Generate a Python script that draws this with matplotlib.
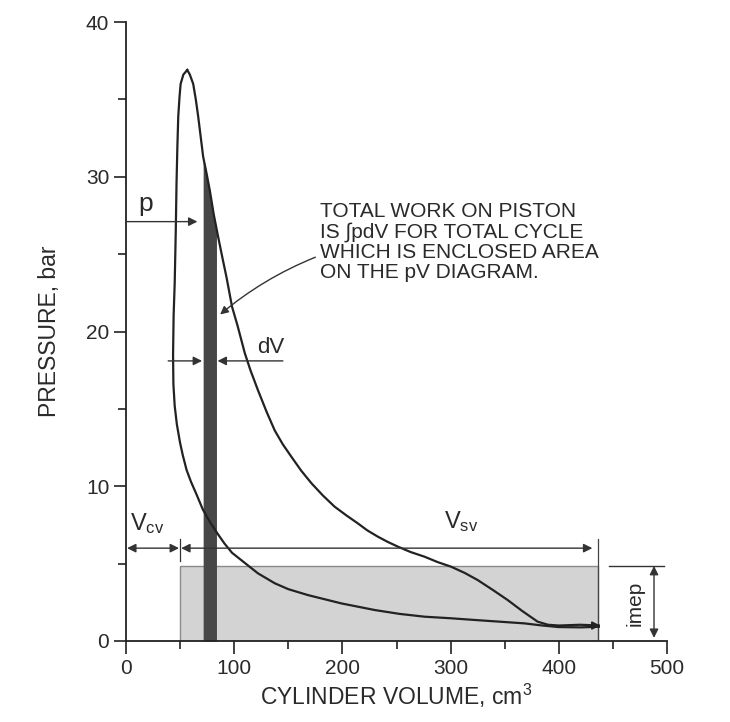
import numpy as np
import matplotlib
matplotlib.use("Agg")
import matplotlib.pyplot as plt
from matplotlib.patches import Rectangle

plt.rcParams['font.family'] = ['Liberation Sans', 'DejaVu Sans']
plt.rcParams['mathtext.fontset'] = 'custom'
plt.rcParams['mathtext.rm'] = 'Liberation Sans'
plt.rcParams['mathtext.it'] = 'Liberation Sans'

# ---- data ----
# compression stroke (V decreasing) up to the pressure peak
v_comp = [437, 420, 400, 385, 368, 345, 322, 300, 276, 253, 230, 199, 168, 150, 137.5, 122,
          107, 98, 91, 84, 77.5, 71, 65, 60, 56, 52.5, 50, 47, 45, 43.8, 43.5, 44, 45, 46,
          46.7, 47.5, 48.3, 49.5, 50.5, 53, 56.6]
p_comp = [0.92, 0.88, 0.9, 1.0, 1.14, 1.25, 1.36, 1.47, 1.57, 1.75, 2.0, 2.43, 2.97, 3.35, 3.73, 4.37,
          5.2, 5.7, 6.3, 7.0, 7.7, 8.5, 9.5, 10.3, 11.05, 12.0, 12.8, 14.0, 15.2, 16.6, 18.5, 21.0, 23.1, 26.5,
          29.6, 32.0, 33.9, 35.2, 36.0, 36.6, 36.9]
# expansion stroke from the peak down to BDC
v_exp = [56.6, 59, 62.1, 64.5, 66.7, 69, 71.3, 74.5, 77.5, 81, 85.2, 89, 92.9, 98, 103, 109.8,
         115, 122, 130, 137.5, 145, 152.9, 162, 171.3, 182, 192.8, 204, 214.3, 223, 232.8, 242,
         251.2, 263, 275.8, 288, 300.5, 313, 325, 339, 352.7, 366, 380.4, 390, 400, 420, 437]
p_exp = [36.9, 36.6, 36.0, 35.0, 33.9, 32.6, 31.3, 30.2, 29.1, 27.6, 26.1, 24.8, 23.5, 21.6, 20.4, 18.6,
         17.5, 16.2, 14.8, 13.6, 12.7, 11.9, 11.0, 10.2, 9.4, 8.68, 8.1, 7.6, 7.15, 6.74, 6.4,
         6.1, 5.75, 5.45, 5.1, 4.8, 4.4, 3.94, 3.3, 2.65, 1.95, 1.25, 1.05, 1.0, 1.05, 1.0]

strip_v = [71.3, 83.6]      # dV strip
v_clear = 50                # clearance volume
v_bdc = 436                 # end of swept volume
imep = 4.85                 # bar

x_ticks = [0, 100, 200, 300, 400, 500]
y_ticks = [0, 10, 20, 30, 40]

ink = '#222222'
txt = '#2a2a2a'

fig = plt.figure(figsize=(7.30, 7.22), dpi=100)
ax = fig.add_axes([126/730, 1-641/722, (667-126)/730, (641-22)/722])
ax.set_xlim(0, 500)
ax.set_ylim(0, 40)

# imep rectangle
ax.add_patch(Rectangle((v_clear, 0), v_bdc - v_clear, imep, facecolor='#d3d3d3',
                       edgecolor='#8a8a8a', linewidth=1.0, zorder=1))

# dV strip under the expansion curve
vs = np.linspace(strip_v[0], strip_v[1], 30)
ax.fill_between(vs, 0, np.interp(vs, v_exp, p_exp), color='#474747', linewidth=0, zorder=2)

# cycle curves
ax.plot(v_comp, p_comp, color=ink, lw=1.6, zorder=3, solid_joinstyle='round')
ax.plot(v_exp, p_exp, color=ink, lw=1.6, zorder=3, solid_joinstyle='round')
ax.annotate('', xy=(v_comp[0] + 4, 1.0), xytext=(v_comp[0] - 8, 1.0),
            arrowprops=dict(arrowstyle='-|>', color=ink, lw=1.2, mutation_scale=12), zorder=4)

arr = dict(arrowstyle='-|>', color='#333333', lw=1.0, mutation_scale=13, shrinkA=0, shrinkB=0)
arr2 = dict(arrowstyle='<|-|>', color='#333333', lw=1.0, mutation_scale=13, shrinkA=0, shrinkB=0)

# p arrow
ax.annotate('', xy=(66, 27.1), xytext=(0, 27.1), arrowprops=arr)
ax.text(18, 27.8, 'p', fontsize=19, color=txt, ha='center', va='baseline')

# dV arrows
ax.annotate('', xy=(strip_v[0] - 1, 18.1), xytext=(39, 18.1), arrowprops=arr)
ax.annotate('', xy=(strip_v[1] + 1, 18.1), xytext=(145, 18.1), arrowprops=arr)
ax.text(134, 18.6, 'dV', fontsize=16, color=txt, ha='center', va='baseline')

# annotation
ax.text(179, 28.4, 'TOTAL WORK ON PISTON\nIS \u222bpdV FOR TOTAL CYCLE\nWHICH IS ENCLOSED AREA\nON THE pV DIAGRAM.',
        fontsize=15, color=txt, ha='left', va='top', linespacing=1.08)
ax.annotate('', xy=(87, 21.1), xytext=(175, 24.8),
            arrowprops=dict(arrowstyle='-|>', color='#333333', lw=1.0, mutation_scale=12,
                            shrinkA=0, shrinkB=0, connectionstyle='arc3,rad=0.08'))

# Vcv / Vsv dimension arrows
ax.annotate('', xy=(1, 6.0), xytext=(v_clear - 1, 6.0), arrowprops=arr2)
ax.annotate('', xy=(v_clear + 1, 6.0), xytext=(v_bdc - 5, 6.0), arrowprops=arr2)
ax.plot([v_clear, v_clear], [5.2, 6.6], color='#333333', lw=0.9)
ax.plot([v_bdc, v_bdc], [0, 6.6], color='#444444', lw=0.9, zorder=2)
ax.text(4, 6.8, r'V$_{\rm cv}$', fontsize=17, color=txt, ha='left', va='bottom')
ax.text(294, 6.9, r'V$_{\rm sv}$', fontsize=17, color=txt, ha='left', va='bottom')

# imep marker
ax.plot([446, 497], [imep, imep], color='#333333', lw=1.0, clip_on=False)
ax.annotate('', xy=(488, 0.2), xytext=(488, imep), arrowprops=arr2)
ax.text(471, 2.45, 'imep', fontsize=15, color=txt, rotation=90, ha='center', va='center')

# axes styling
for s in ['top', 'right']:
    ax.spines[s].set_visible(False)
for s in ['left', 'bottom']:
    ax.spines[s].set_color(ink)
    ax.spines[s].set_linewidth(1.3)
ax.set_xticks(x_ticks)
ax.set_yticks(y_ticks)
ax.set_xticks(np.arange(50, 500, 100), minor=True)
ax.set_yticks(np.arange(5, 40, 10), minor=True)
ax.tick_params(which='major', length=9, width=1.2, color=ink, labelsize=15, labelcolor=txt)
ax.tick_params(which='minor', length=6, width=1.2, color=ink)
ax.tick_params(axis='x', which='major', pad=4)
ax.tick_params(axis='y', which='major', pad=3)
ax.set_xlabel('CYLINDER VOLUME, cm$^3$', fontsize=16.5, color=txt, labelpad=3)
ax.set_ylabel('PRESSURE, bar', fontsize=16.5, color=txt, labelpad=18)

fig.savefig('out.png', dpi=100, facecolor='white')
